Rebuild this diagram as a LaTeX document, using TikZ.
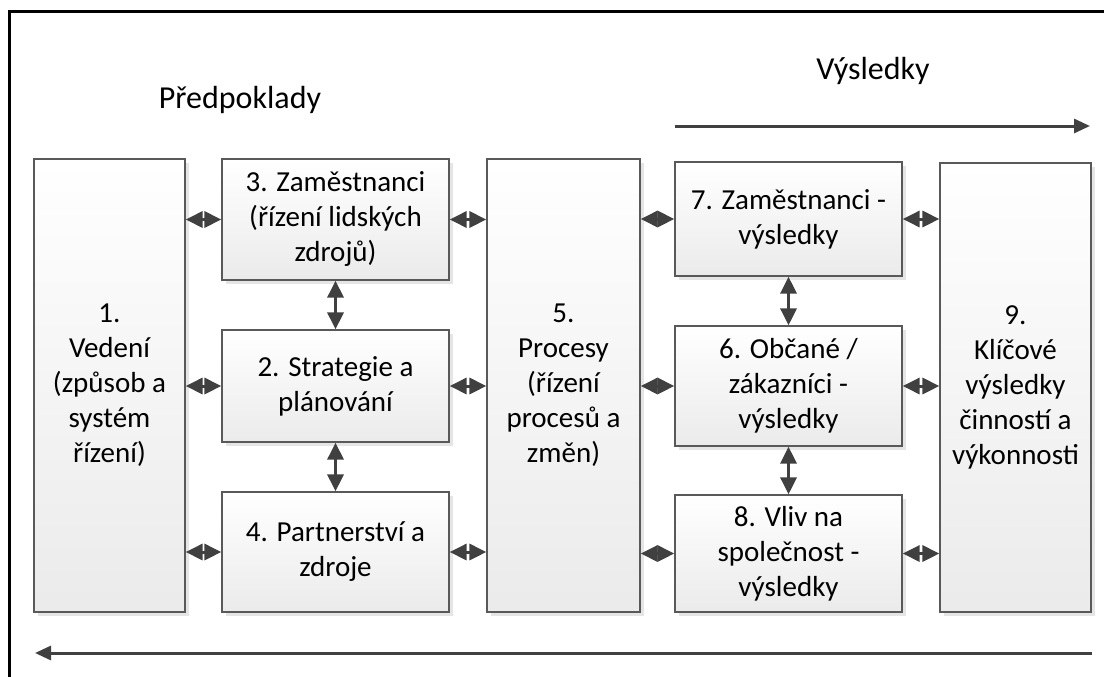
\documentclass[tikz,border=0pt]{standalone}
\usepackage{fontspec}
\setmainfont{Carlito}
\usetikzlibrary{arrows.meta,shadows}
\begin{document}
\begin{tikzpicture}[x=1pt,y=-1pt,
    blok/.style={draw=black!65,line width=1.2pt,top color=white,bottom color=black!8,
      drop shadow={shadow xshift=4pt,shadow yshift=-4pt,fill=black!10,opacity=1},
      align=center,inner sep=0pt,font=\fontsize{29}{35}\selectfont},
    obousmer/.style={draw=black!75,line width=3pt,
      {Stealth[length=17pt,width=16pt,inset=0pt]}-{Stealth[length=17pt,width=16pt,inset=0pt]}},
    sipka/.style={draw=black!75,line width=3pt,-{Stealth[length=16pt,width=14pt,inset=0pt]}},
    nadpis/.style={anchor=base,font=\fontsize{32}{38}\selectfont}]
    \useasboundingbox (0,0) rectangle (1104,677);
    \clip (0,0) rectangle (1104,677);
    \draw [line width=3pt] (9,680) -- (9,12) -- (1110,12);
    % nadpisy
    \node [nadpis] (predpoklady) at (240,108) {Předpoklady};
    \node [nadpis] (vysledky) at (873,80) {Výsledky};
    % bloky
    \node [blok, minimum width=151pt, minimum height=453pt] (vedeni) at (109.5,385.5)
      {1.\\Vedení\\(způsob a\\systém\\řízení)};
    \node [blok, minimum width=227pt, minimum height=121pt] (zam) at (335.5,219.5)
      {3. Zaměstnanci\\(řízení lidských\\zdrojů)};
    \node [blok, minimum width=227pt, minimum height=112pt] (strategie) at (335.5,386)
      {2. Strategie a\\plánování};
    \node [blok, minimum width=227pt, minimum height=120pt] (partner) at (335.5,552)
      {4. Partnerství a\\zdroje};
    \node [blok, minimum width=153pt, minimum height=453pt] (procesy) at (563.5,385.5)
      {5.\\Procesy\\(řízení\\procesů a\\změn)};
    \node [blok, minimum width=227pt, minimum height=114pt] (zamvys) at (788.5,219)
      {7. Zaměstnanci -\\výsledky};
    \node [blok, minimum width=227pt, minimum height=120pt] (obcane) at (788.5,386)
      {6. Občané /\\zákazníci -\\výsledky};
    \node [blok, minimum width=227pt, minimum height=117pt] (vliv) at (788.5,553.5)
      {8. Vliv na\\společnost -\\výsledky};
    \node [blok, minimum width=151pt, minimum height=449pt] (klicove) at (1015.5,387.5)
      {9.\\Klíčové\\výsledky\\činností a\\výkonnosti};
    % vazby
    \foreach \b in {zam,strategie,partner} {
      \draw [obousmer] (\b.west -| vedeni.east) -- (\b.west);
      \draw [obousmer] (\b.east) -- (\b.east -| procesy.west);
    }
    \foreach \b in {zamvys,obcane,vliv} {
      \draw [obousmer] (\b.west -| procesy.east) -- (\b.west);
      \draw [obousmer] (\b.east) -- (\b.east -| klicove.west);
    }
    \draw [obousmer] (zam) -- (strategie);
    \draw [obousmer] (strategie) -- (partner);
    \draw [obousmer] (zamvys) -- (obcane);
    \draw [obousmer] (obcane) -- (vliv);
    % smery
    \coordinate (tokA) at (675,126);
    \coordinate (tokB) at (1090,126);
    \coordinate (zpetA) at (1092,653);
    \coordinate (zpetB) at (35,653);
    \draw [sipka] (tokA) -- (tokB);
    \draw [sipka] (zpetA) -- (zpetB);
  \end{tikzpicture}
\end{document}
